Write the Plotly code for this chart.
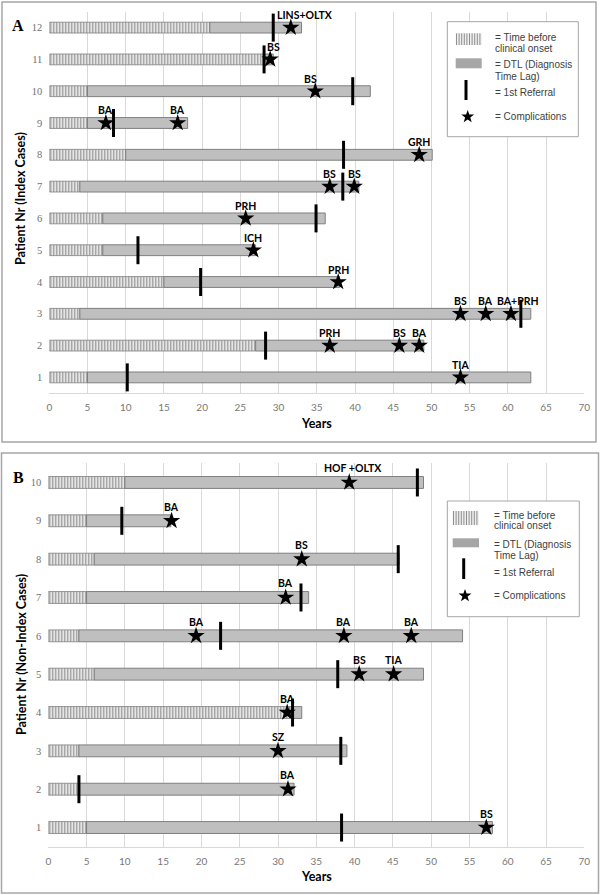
import math
import plotly.graph_objects as go

W, H = 600, 895

# ---------------- DATA ----------------
# Panel A (Index Cases)
A_rows = [1, 2, 3, 4, 5, 6, 7, 8, 9, 10, 11, 12]
A_onset = [5, 27, 4, 15, 7, 7, 4, 10, 5, 5, 28, 21]          # end of "time before clinical onset"
A_end = [63, 49, 63, 38, 27, 36.1, 40.5, 50.1, 18.1, 42, 29.3, 33]  # end of DTL
A_referral = [10.2, 28.3, 61.7, 19.8, 11.6, 34.9, 38.4, 38.5, 8.4, 39.7, 28.1, 29.3]
A_comp_x = [[53.8], [36.7, 45.8, 48.4], [53.8, 57.1, 60.4], [37.8], [26.7], [25.7],
            [36.7, 39.9], [48.4], [7.4, 16.8], [34.8], [28.9], [31.6]]
A_comp_lbl = [["TIA"], ["PRH", "BS", "BA"], ["BS", "BA", "BA+PRH"], ["PRH"], ["ICH"], ["PRH"],
              ["BS", "BS"], ["GRH"], ["BA", "BA"], ["BS"], ["BS"], ["LINS+OLTX"]]

# Panel B (Non-Index Cases)
B_rows = [1, 2, 3, 4, 5, 6, 7, 8, 9, 10]
B_onset = [5, 4, 4, 31.5, 6, 4, 5, 6, 5, 10]
B_end = [58, 32.1, 39, 33.1, 49, 54.1, 34, 45.8, 16, 49]
B_referral = [38.3, 4.0, 38.2, 31.9, 37.8, 22.5, 33.0, 45.7, 9.6, 48.2]
B_comp_x = [[57.2], [31.3], [30.0], [31.2], [40.6, 45.1], [19.3, 38.6, 47.4], [31.0], [33.1], [16.1], [39.3]]
B_comp_lbl = [["BS"], ["BA"], ["SZ"], ["BA"], ["BS", "TIA"], ["BA", "BA", "BA"], ["BA"], ["BS"], ["BA"], ["HOF +OLTX"]]

X_TICKS = [0, 5, 10, 15, 20, 25, 30, 35, 40, 45, 50, 55, 60, 65, 70]

# ---------------- STYLE ----------------
HATCH_BG = "#eeeeee"
HATCH_FG = "#8f8f8f"
DTL_FILL = "#bfbfbf"
BAR_EDGE = "#7f7f7f"
GRID = "#d9d9d9"
FRAME = "#a6a6a6"
LBL_FONT = dict(family="Lato", size=10.5, color="black")


def PX(x):
    return x / W


def PY(y):
    return 1 - y / H


fig = go.Figure()

panels = [
    dict(xa="x", ya="y", rows=A_rows, onset=A_onset, end=A_end, ref=A_referral,
         cx=A_comp_x, cl=A_comp_lbl, width=0.34, yshift=12.5,
         dx={(12, 0): 14, (3, 2): 7, (10, 0): -5, (11, 0): 3}),
    dict(xa="x2", ya="y2", rows=B_rows, onset=B_onset, end=B_end, ref=B_referral,
         cx=B_comp_x, cl=B_comp_lbl, width=0.31, yshift=14,
         dx={(10, 0): 4}),
]

annotations = []
for p in panels:
    fig.add_trace(go.Bar(
        y=p["rows"], x=p["onset"], base=[0] * len(p["rows"]), orientation="h",
        width=p["width"], xaxis=p["xa"], yaxis=p["ya"],
        marker=dict(color=HATCH_BG, line=dict(color=BAR_EDGE, width=0.8),
                    pattern=dict(shape="|", fgcolor=HATCH_FG, bgcolor=HATCH_BG,
                                 size=3, solidity=0.4, fillmode="replace")),
        showlegend=False, hoverinfo="skip"))
    fig.add_trace(go.Bar(
        y=p["rows"], x=[e - o for e, o in zip(p["end"], p["onset"])], base=p["onset"],
        orientation="h", width=p["width"], xaxis=p["xa"], yaxis=p["ya"],
        marker=dict(color=DTL_FILL, line=dict(color=BAR_EDGE, width=1)),
        showlegend=False, hoverinfo="skip"))
    fig.add_trace(go.Scatter(
        x=p["ref"], y=p["rows"], mode="markers", xaxis=p["xa"], yaxis=p["ya"],
        marker=dict(symbol="line-ns", size=20, line=dict(color="black", width=3)),
        showlegend=False, hoverinfo="skip", cliponaxis=False))
    sx, sy = [], []
    for r, xs, ls in zip(p["rows"], p["cx"], p["cl"]):
        for i, (xv, lab) in enumerate(zip(xs, ls)):
            sx.append(xv)
            sy.append(r)
            annotations.append(dict(
                x=xv, y=r, xref=p["xa"], yref=p["ya"], text="<b>%s</b>" % lab,
                showarrow=False, font=LBL_FONT, xanchor="center", yanchor="middle",
                yshift=p["yshift"], xshift=p["dx"].get((r, i), 0)))
    fig.add_trace(go.Scatter(
        x=sx, y=sy, mode="markers", xaxis=p["xa"], yaxis=p["ya"],
        marker=dict(symbol="star", size=13, color="black", line=dict(width=0)),
        showlegend=False, hoverinfo="skip", cliponaxis=False))

axis_common_x = dict(range=[0, 70], tickvals=X_TICKS, showgrid=True, gridcolor=GRID, gridwidth=1,
                     zeroline=False, showline=True, linecolor=GRID, linewidth=1, ticks="",
                     tickfont=dict(family="Lato", size=10, color="#777777"), ticklabelstandoff=5,
                     fixedrange=True, automargin=False)
axis_common_y = dict(tickmode="linear", tick0=1, dtick=1, showgrid=False, zeroline=False,
                     showline=False, ticks="",
                     tickfont=dict(family="Liberation Serif", size=10.5, color="#707070"),
                     ticklabelstandoff=6, fixedrange=True, automargin=False)

fig.update_layout(
    width=W, height=H, margin=dict(l=0, r=0, t=0, b=0, autoexpand=False),
    paper_bgcolor="white", plot_bgcolor="white",
    barmode="overlay", showlegend=False,
    xaxis=dict(domain=[PX(49.3), PX(584.3)], anchor="y", **axis_common_x),
    yaxis=dict(domain=[PY(393.3), PY(11.7)], anchor="x", range=[0.5, 12.5], **axis_common_y),
    xaxis2=dict(domain=[PX(48.3), PX(584.3)], anchor="y2", **axis_common_x),
    yaxis2=dict(domain=[PY(846.7), PY(463.3)], anchor="x2", range=[0.5, 10.5], **axis_common_y),
)

shapes = []
# panel frames
shapes.append(dict(type="rect", xref="paper", yref="paper", x0=PX(2), x1=PX(596), y0=PY(442), y1=PY(2),
                   line=dict(color=FRAME, width=1.5)))
shapes.append(dict(type="rect", xref="paper", yref="paper", x0=PX(1.5), x1=PX(598.5), y0=PY(893), y1=PY(453),
                   line=dict(color=FRAME, width=1.5)))


def star_path(cx, cy, R=6.8, r=2.7):
    pts = []
    for k in range(10):
        ang = -math.pi / 2 + k * math.pi / 5
        rad = R if k % 2 == 0 else r
        pts.append((PX(cx + rad * math.cos(ang)), PY(cy + rad * math.sin(ang))))
    return "M " + " L ".join("%.5f,%.5f" % pt for pt in pts) + " Z"


# legends
TEXT_FONT = dict(family="Liberation Sans", size=10, color="#404040")
legends = [
    dict(box=(447.3, 21.7, 578.3, 136.7), hatch=(455.7, 33.3, 481.7, 45), dtl=(455.7, 58.3, 481.7, 68.3),
         bar=(466, 80, 100), star=(467.7, 116.7), tx=493.3, ty=[37.3, 48.3, 65, 76, 92.7, 116.7]),
    dict(box=(447.3, 501, 579.3, 616.7), hatch=(452.7, 511, 479, 525), dtl=(452.7, 538.3, 479, 547.3),
         bar=(463.7, 558.3, 579), star=(465, 595.7), tx=491.7, ty=[515, 525.7, 544, 555, 572.3, 595.7]),
]
legend_texts = ["= Time before", "clinical onset", "= DTL (Diagnosis", "Time Lag)", "= 1st Referral", "= Complications"]
for L in legends:
    bx0, by0, bx1, by1 = L["box"]
    shapes.append(dict(type="rect", xref="paper", yref="paper", x0=PX(bx0), x1=PX(bx1), y0=PY(by1), y1=PY(by0),
                       line=dict(color=FRAME, width=1), fillcolor="white"))
    hx0, hy0, hx1, hy1 = L["hatch"]
    shapes.append(dict(type="rect", xref="paper", yref="paper", x0=PX(hx0), x1=PX(hx1), y0=PY(hy1), y1=PY(hy0),
                       line=dict(width=0), fillcolor=HATCH_BG))
    xx = hx0 + 0.8
    while xx < hx1:
        shapes.append(dict(type="line", xref="paper", yref="paper", x0=PX(xx), x1=PX(xx), y0=PY(hy1), y1=PY(hy0),
                           line=dict(color=HATCH_FG, width=1)))
        xx += 2.6
    dx0, dy0, dx1, dy1 = L["dtl"]
    shapes.append(dict(type="rect", xref="paper", yref="paper", x0=PX(dx0), x1=PX(dx1), y0=PY(dy1), y1=PY(dy0),
                       line=dict(width=0), fillcolor="#a6a6a6"))
    rx, ry0, ry1 = L["bar"]
    shapes.append(dict(type="line", xref="paper", yref="paper", x0=PX(rx), x1=PX(rx), y0=PY(ry1), y1=PY(ry0),
                       line=dict(color="black", width=3)))
    sxp, syp = L["star"]
    shapes.append(dict(type="path", xref="paper", yref="paper", path=star_path(sxp, syp),
                       fillcolor="black", line=dict(width=0)))
    for t, yy in zip(legend_texts, L["ty"]):
        annotations.append(dict(x=PX(L["tx"]), y=PY(yy), xref="paper", yref="paper", text=t, showarrow=False,
                                xanchor="left", yanchor="middle", font=TEXT_FONT))

# titles and panel letters
TITLE_FONT = dict(family="Lato", size=12.5, color="black")
annotations += [
    dict(x=PX(18), y=PY(25), xref="paper", yref="paper", text="<b>A</b>", showarrow=False,
         font=dict(family="Liberation Serif", size=16, color="black"), xanchor="center", yanchor="middle"),
    dict(x=PX(18), y=PY(477), xref="paper", yref="paper", text="<b>B</b>", showarrow=False,
         font=dict(family="Liberation Serif", size=16, color="black"), xanchor="center", yanchor="middle"),
    dict(x=PX(316.7), y=PY(423), xref="paper", yref="paper", text="<b>Years</b>", showarrow=False,
         font=TITLE_FONT, xanchor="center", yanchor="middle"),
    dict(x=PX(316.7), y=PY(876), xref="paper", yref="paper", text="<b>Years</b>", showarrow=False,
         font=TITLE_FONT, xanchor="center", yanchor="middle"),
    dict(x=PX(21), y=PY(199), xref="paper", yref="paper", text="<b>Patient Nr (Index Cases)</b>", showarrow=False,
         font=TITLE_FONT, textangle=-90, xanchor="center", yanchor="middle"),
    dict(x=PX(21), y=PY(655), xref="paper", yref="paper", text="<b>Patient Nr (Non-Index Cases)</b>", showarrow=False,
         font=TITLE_FONT, textangle=-90, xanchor="center", yanchor="middle"),
]

fig.update_layout(shapes=shapes, annotations=annotations)
fig.write_html("out.html", config={"displayModeBar": False},
               post_script="document.body.style.margin='0';document.body.style.overflow='hidden';")
